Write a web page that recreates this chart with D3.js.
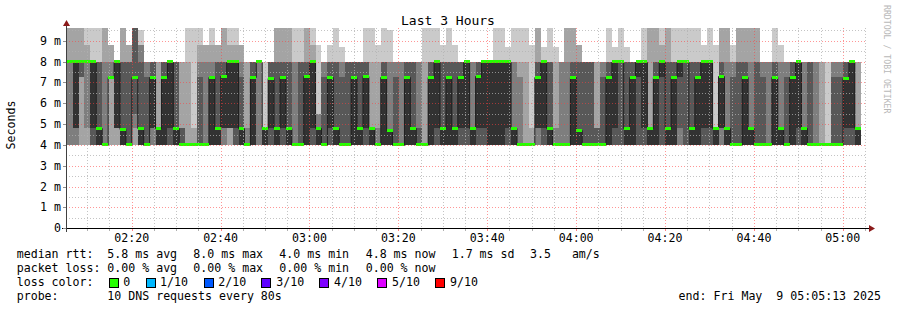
<!DOCTYPE html>
<html><head><meta charset="utf-8">
<script src="https://cdn.jsdelivr.net/npm/d3@7"></script>
<style>
body{margin:0;background:#fff}
svg{display:block}
text{font-family:"DejaVu Sans Mono",monospace;fill:#000}
</style></head>
<body><svg id="chart" width="897" height="310"></svg>
<script>
// ---------------- data ----------------
const title = "Last 3 Hours";
const yLabel = "Seconds";
const yTickValues = [0,1,2,3,4,5,6,7,8,9];
const yTickLabels = ["0","1 m","2 m","3 m","4 m","5 m","6 m","7 m","8 m","9 m"];
const xTickLabels = ["02:20","02:40","03:00","03:20","03:40","04:00","04:20","04:40","05:00"];
const firstStep = new Date(2025,4,9,2,5,22);
const stepSeconds = 80;
const endTime = new Date(2025,4,9,5,5,13);
const yMaxMs = 9.6;

// median rtt per 80 s step (ms)
const median = [8,8,8,8,8,4.8,4,7.25,8,4.75, 4,7.25,4.8,4,7.25,4.8,7.25,8,4.8,4,
 4,4,4,4,7.25,4.8,7.3,8,8,4.8, 4,7.25,8,4.8,7.2,4.8,7.25,4.8,4,4,
 7.3,8,4.8,4,7.25,4.8,4,4,7.25,4.8, 7.3,4.8,4,7.25,4.7,4,4,7.25,4.8,4,
 4,7.25,8,4.8,7.25,4.8,7.25,8,4.8,7.3, 8,8,8,8,8,4.8,4,4,4,7.25,
 8,4.8,4,4,4,7.25,4.7,4,4,4, 4,7.25,8,8,4.8,7.25,8,8,4.8,7.25,
 8,4.8,7.25,8,8,4.8,7.25,8,8,4.8, 7.3,4.8,4,4,7.25,4.8,4,4,4,7.25,
 4.8,4,7.25,8,4.8,4,4,4,4,4, 4,7.2,8,4.8];

// the 10 sorted ping times of each step (ms), first hour
const pingsHour1 = [
 [4,4,4,8,8,8,8,8,9.7,9.7],[4,4,4,4.8,4.8,8,8,8,9.7,9.7],[4,4,7.25,7.25,8,8,8,8,9.7,9.7],
 [4,4,4.8,8,8,8,8,8,8.8,9.7],[4,4,4,4,4.8,8,8,8,8,9.7],[4,4,4,4,4,4.8,8,8,8,9.7],
 [4,4,4,4,4,4,4,8,9.7,9.7],[4,4,7.25,7.25,7.25,7.25,7.25,8,8.8,8.8],[4,4,4.8,4.8,4.8,8,8,8,8,8],
 [4,4,4,4,4,4.75,8,8,9.7,9.7],[4,4,4,4,4,4,8,8,8.8,8.8],[4,4,4.8,5.5,7.25,7.25,9.7,9.7,9.7,9.7],
 [4,4,4,4,4,4.8,8,8.8,8.8,9.5],[4,4,4,4,4,4,7.25,8,8,8],[4,4,4,4.8,4.8,7.25,8,8,8,8],
 [4,4,4,4,4,4.8,4.8,4.8,8,8],[4,4,4,4,4,7.25,8,8,8,8],[4,4,4,4,4.8,8,8,8,8,8],
 [4,4,4,4,4,4.8,8,8,8,8],[4,4,4,4,4,4,4.8,4.8,8,8],[4,4,4,4,4,4,4,4,8,9.7],
 [4,4,4,4,4,4,4,4,4.8,9.7],[4,4,4,4,4,4,7.25,8,8.8,9.7],[4,4,4,4,4,4,4,8,8.8,8.8],
 [4,4,4,4,4,7.25,7.25,8,8.8,9.7],[4,4,4,4,4,4.8,8,8,8.8,8.8],[4,4,4,4.8,4.8,7.3,8,8,9.7,9.7],
 [4,4,4.8,4.8,4.8,8,8,8,8.8,9.7],[4,4,4,4,4.8,8,8,8,8.8,9.7],[4,4,4,4,4,4.8,7.25,8,8.8,8.8],
 [4,4,4,4,4,4,4,4.8,8,8],[4,4,4,4,4,7.25,8,8,8,8],[4,4,4,8,8,8,8,8,8,8],
 [4,4,4,4,4,4.8,4.8,4.8,4.8,8],[4,4,4,4,4.8,7.2,8,8,8,8],[4,4,4,4,4,4.8,8,8,9.7,9.7],
 [4,4,4,4,4.8,7.25,8,8,9.7,9.7],[4,4,4,4,4,4.8,8,8,9.7,9.7],[4,4,4,4,4,4,4,8,8,9.7],
 [4,4,4,4,4,4,8,8,8,9.7],[4,4,4,4,4,7.3,8,8,9.7,9.7],[4,4,4,4,4.8,8,8,8,8.8,9.7],
 [4,4,4,4,4,4.8,4.8,5.5,5.5,8.8],[4,4,4,4,4,4,7.25,8,8,8],[4,4,4,4,4.8,7.25,8,8,8,8.8]
];
// second hour
const pingsHour2 = [
 [4,4,4,4,4,4.8,8,8,8,9.7],[4,4,4,4,4,4,7.25,8,8,8.7],[4,4,4,4,4,4,8,8,8,8],
 [4,4,4,4,4,7.25,8,8,8,8],[4,4,4,4,4,4.8,8,8,8,8],[4,4,4,4,4.8,7.3,8,8,8,9.7],
 [4,4,4,4,4,4.8,4.8,4.8,8,9.7],[4,4,4,4,4,4,4,4.8,8,8.8],[4,4,4,4,4,7.25,8,8,8,9.7],
 [4,4,4,4,4,4.7,4.7,8,8,9.5],[4,4,4,4,4,4,7.25,8,8,8],[4,4,4,4,4,4,4,8,8,8],
 [4,4,4,4,4,7.25,8,8,8,8],[4,4,4,4,4,4.8,8,8,8,8],[4,4,4,4,4,4,4.8,8,8,8],
 [4,4,4,4,4,4,4,4,8,9.7],[4,4,4,4,4,7.25,8,8,8,9.7],[4,4,4,4,4.8,8,8,8,8,9.7],
 [4,4,4,4,4,4.8,8,8,8,8.8],[4,4,4,4,4,7.25,8,8,8,9.7],[4,4,4,4,4,4.8,8,8,8,8.8],
 [4,4,4,4,4.8,7.25,8,8,8,8],[4,4,4,4,4.8,8,8,8,8,8],[4,4,4,4,4,4.8,4.8,8,8,8],
 [4,4,4,4,4.8,7.3,8,8,8,8],[4,4,4,4,4.8,8,8,8,8,8],[4,4,4,4,4,8,8,8,8,8],
 [4,4,4,4,4,8,8,8,8,9.7],[4,4,4,4,4,8,8,8,8,9.7],[4,4,4,4,4.8,8,8,8,8,8.7],
 [4,4,4,4,4,4.8,4.8,8,8,9.7],[4,4,4,4,4,4,4,7.25,8,9.7],[4,4,4,4,4,4,4,4,8,9.7],
 [4,4,4,4,4,4,4,4,4.8,8.8],[4,4,4,4.8,4.8,7.25,8,8,9.7,9.7],[4,4,4,4,4.8,8,8,8,8,8.7],
 [4,4,4,4,4,4.8,8,8,8,9.7],[4,4,4,4,4,4,4,4.8,8,8.7],[4,4,4,4,4,4,4,8,8,8],
 [4,4,4,4,4,4,4,8,9.7,9.7],[4,4,4,4,4,7.25,8,8,9.7,9.7],[4,4,4,4,4,4.7,8,8,8.8,8.8],
 [4,4,4,4,4,4,8,8,8,8],[4,4,4,4,4,4,8,8,8,8],[4,4,4,4,4,4,4.8,4.8,8,8]
];
// third hour
const pingsHour3 = [
 [4,4,4,4,4,4,7.25,8,8,8],[4,4,4,4,4,7.25,8,8,8,9.7],[4,4,4,4,4.8,8,8,8,8,8.7],
 [4,4,4,4,8,8,8,8,8,9.7],[4,4,4,4,4,4.8,8,8,8,8.7],[4,4,4,4,4,7.25,8,8,8,8],
 [4,4,4,4,7.25,8,8,8,8,8],[4,4,4,4,4.8,8,8,8,8,9.7],[4,4,4,4,4,4.8,4.8,4.8,9.7,9.7],
 [4,4,4,4,4,7.25,8,8,9.7,9.7],[4,4,4,4,7.25,8,8,8,8.8,9.7],[4,4,4,4,4,4.8,8,8,9.7,9.7],
 [4,4,4,4,4,7.25,8,8,8,9.7],[4,4,4,4.8,7.25,8,8,8,8,9.7],[4,4,4,4,8,8,8,8,8,9.7],
 [4,4,4,4,4,4.8,8,8,8,9.7],[4,4,4,4,4,7.25,8,8,8,9.7],[4,4,4,4,4.8,8,8,8,8,8.8],
 [4,4,4,4,4.8,8,8,8,8,9.7],[4,4,4,4,4,4.8,4.8,4.8,4.8,8.8],[4,4,4,4.8,4.8,7.3,8,8,9.7,9.7],
 [4,4,4,4,4,4.8,4.8,8,9.7,9.7],[4,4,4,4,4,4,7.25,8,8,8.8],[4,4,4,4,4,4,8,8,9.7,9.7],
 [4,4,4,4,4,7.25,8,8,9.7,9.7],[4,4,4,4,4,4.8,4.8,8,9.7,9.7],[4,4,4,4,4,4,8,8,9.7,9.7],
 [4,4,4,4,4,4,7.25,8,8,8],[4,4,4,4,4,4,4,8,8,8],[4,4,4,4,4,7.25,8,8,8,9.7],
 [4,4,4,4,4,4.8,4.8,8,8,8.8],[4,4,4,4,4,4,7.25,8,8,8],[4,4,4,4,4,7.25,8,8,8,8],
 [4,4,4,4,4.8,8,8,8,8,8],[4,4,4,4,4,4.8,4.8,8,8,8],[4,4,4,4,4,4,8,8,8,8],
 [4,4,4,4,4,4,4,8,8,8],[4,4,4,4,4,4,4,4,8,8],[4,4,4,4,4,4,4,4,4,8],
 [4,4,4,4,4,4,7.25,8,8,8],[4,4,4,4,4,4,7.25,8,8,8],[4,4,4,4,4.8,7.2,8,8,8,8],
 [4,4,4,4,4.8,8,8,8,8,8],[4,4,4,4,4,4.8,4.8,4.8,8,8]
];

const smokeColors = ["#cacaca","#a4a4a4","#7e7e7e","#585858","#323232"];
const lossColor = "#26ff00";
const legendRtt = ["median rtt:","5.8 ms avg","8.0 ms max","4.0 ms min","4.8 ms now","1.7 ms sd","3.5   am/s"];
const legendLoss = ["packet loss:","0.00 % avg","0.00 % max","0.00 % min","0.00 % now"];
const lossLabels = ["0","1/10","2/10","3/10","4/10","5/10","9/10"];
const lossColors = ["#26ff00","#00b8ff","#0059ff","#5e00ff","#7e00ff","#dd00ff","#ff0000"];
const probeText = ["probe:","10 DNS requests every 80s"];
const endText = "end: Fri May  9 05:05:13 2025";

// ---------------- drawing ----------------
const svg = d3.select("#chart");
const L = 66, R = 866, T = 28.3, B = 228.3;
const pings = pingsHour1.concat(pingsHour2, pingsHour3);
const stepTime = i => new Date(firstStep.getTime() + i*stepSeconds*1000);
const startTime = new Date(endTime.getTime() - 3*3600*1000);

const x = d3.scaleTime().domain([startTime, endTime]).range([L, R]);
const y = d3.scaleLinear().domain([0, yMaxMs]).range([B, T]).clamp(true);

svg.append("rect").attr("width",897).attr("height",310).attr("fill","#fff");

const smoke = svg.append("g").attr("shape-rendering","crispEdges");
pings.forEach((p, i) => {
  const x0 = x(stepTime(i)), x1 = x(stepTime(i+1));
  for (let b = 0; b < 5; b++) {
    const lo = p[b], hi = p[9-b];
    if (hi <= lo) continue;
    smoke.append("rect").attr("x", x0).attr("width", x1-x0)
      .attr("y", y(hi)).attr("height", y(lo)-y(hi)).attr("fill", smokeColors[b]);
  }
});
// median line
const medPts = median.map((m,i)=>[stepTime(i), m]);
medPts.push([stepTime(median.length), median[median.length-1]]);
svg.append("path").datum(medPts)
  .attr("d", d3.line().x(d=>x(d[0])).y(d=>Math.round(y(d[1]))+0.5).curve(d3.curveStepAfter))
  .attr("fill","none").attr("stroke","#202020").attr("stroke-width",1);
// loss coloured median bars
const bars = svg.append("g").attr("shape-rendering","crispEdges");
median.forEach((m,i)=>{
  const x0 = x(stepTime(i)), x1 = x(stepTime(i+1));
  bars.append("rect").attr("x",x0).attr("width",x1-x0)
    .attr("y", y(m)-1.5).attr("height",3).attr("fill",lossColor);
});

// grid
const grid = svg.append("g").attr("shape-rendering","crispEdges");
const minorY = d3.range(0, yMaxMs+0.01, 0.5).filter(v=>v%1!==0);
const gStyle = (sel, major) => sel
  .attr("stroke", major ? "#ff4040" : "#b0b0b0")
  .attr("stroke-opacity", major ? 0.55 : 0.75)
  .attr("stroke-dasharray","1,2");
minorY.forEach(v=>gStyle(grid.append("line").attr("x1",L).attr("x2",R)
  .attr("y1",Math.round(y(v))+0.5).attr("y2",Math.round(y(v))+0.5), false));
yTickValues.slice(1).forEach(v=>gStyle(grid.append("line").attr("x1",L).attr("x2",R)
  .attr("y1",Math.round(y(v))+0.5).attr("y2",Math.round(y(v))+0.5), true));
const minorX = d3.timeMinute.every(5).range(startTime, endTime).filter(d=>d.getMinutes()%20!==0);
minorX.forEach(d=>gStyle(grid.append("line").attr("x1",Math.round(x(d))+0.5).attr("x2",Math.round(x(d))+0.5)
  .attr("y1",T).attr("y2",B), false));
const majorX = d3.timeMinute.every(20).range(startTime, endTime);
majorX.forEach(d=>gStyle(grid.append("line").attr("x1",Math.round(x(d))+0.5).attr("x2",Math.round(x(d))+0.5)
  .attr("y1",T).attr("y2",B), true));
// x ticks
minorX.forEach(d=>grid.append("line").attr("x1",Math.round(x(d))+0.5).attr("x2",Math.round(x(d))+0.5)
  .attr("y1",B).attr("y2",B+3).attr("stroke","#b0b0b0"));
majorX.forEach(d=>grid.append("line").attr("x1",Math.round(x(d))+0.5).attr("x2",Math.round(x(d))+0.5)
  .attr("y1",B).attr("y2",B+3).attr("stroke","#ff8080"));

// axes
const ax = svg.append("g").attr("shape-rendering","crispEdges");
ax.append("line").attr("x1",62).attr("x2",869).attr("y1",228.5).attr("y2",228.5).attr("stroke","#000");
ax.append("line").attr("x1",66.5).attr("x2",66.5).attr("y1",232).attr("y2",25).attr("stroke","#404040");
yTickValues.forEach(v=>ax.append("line").attr("x1",63).attr("x2",66).attr("y1",Math.round(y(v))+0.5).attr("y2",Math.round(y(v))+0.5).attr("stroke","#909090"));
svg.append("path").attr("d","M63,26 L70,26 L66.5,20 Z").attr("fill","#8b1a1a");
svg.append("path").attr("d","M869,225 L869,232 L875,228.5 Z").attr("fill","#8b1a1a");

// y labels
yTickValues.forEach((v,i)=>svg.append("text").attr("x",61).attr("y",y(v)+4)
  .attr("text-anchor","end").attr("font-size","11.6px").text(yTickLabels[i]));
// x labels
const xLabelTimes = d3.timeMinute.every(20).range(startTime, endTime);
xLabelTimes.forEach((d,i)=>svg.append("text").attr("x",x(d)).attr("y",242)
  .attr("text-anchor","middle").attr("font-size","11.6px").text(xTickLabels[i]));

// title / labels
svg.append("text").attr("x",448).attr("y",24.5).attr("text-anchor","middle").attr("font-size","13px").text(title);
svg.append("text").attr("transform","translate(15,125) rotate(-90)").attr("text-anchor","middle")
  .attr("font-size","11.6px").text(yLabel);
svg.append("text").attr("transform","translate(884,5) rotate(90)").attr("font-size","8.2px")
  .style("fill","#b8b8b8").text("RRDTOOL / TOBI OETIKER");

// legend
const fs = "11.6px";
const rttX = [16.7,107.3,193.3,279.3,365.7,451.7,530];
legendRtt.forEach((t,i)=>svg.append("text").attr("x",rttX[i]).attr("y",258.3).attr("font-size",fs)
  .style("white-space","pre").text(t));
legendLoss.forEach((t,i)=>svg.append("text").attr("x",rttX[i]).attr("y",272.3).attr("font-size",fs)
  .style("white-space","pre").text(t));
svg.append("text").attr("x",16.7).attr("y",286.3).attr("font-size",fs).text("loss color:");
const boxX = [109,145.7,203.7,261.3,319.3,377,435];
const labX = [123.3,160,218.3,276.3,334,392,450];
lossLabels.forEach((t,i)=>{
  svg.append("rect").attr("x",boxX[i]+0.5).attr("y",278.5).attr("width",9).attr("height",9)
    .attr("fill",lossColors[i]).attr("stroke","#000").attr("shape-rendering","crispEdges");
  svg.append("text").attr("x",labX[i]).attr("y",286.3).attr("font-size",fs).text(t);
});
svg.append("text").attr("x",16.7).attr("y",300.3).attr("font-size",fs).text(probeText[0]);
svg.append("text").attr("x",107.3).attr("y",300.3).attr("font-size",fs).text(probeText[1]);
svg.append("text").attr("x",881).attr("y",300.3).attr("text-anchor","end").attr("font-size",fs)
  .style("white-space","pre").text(endText);
</script></body></html>
